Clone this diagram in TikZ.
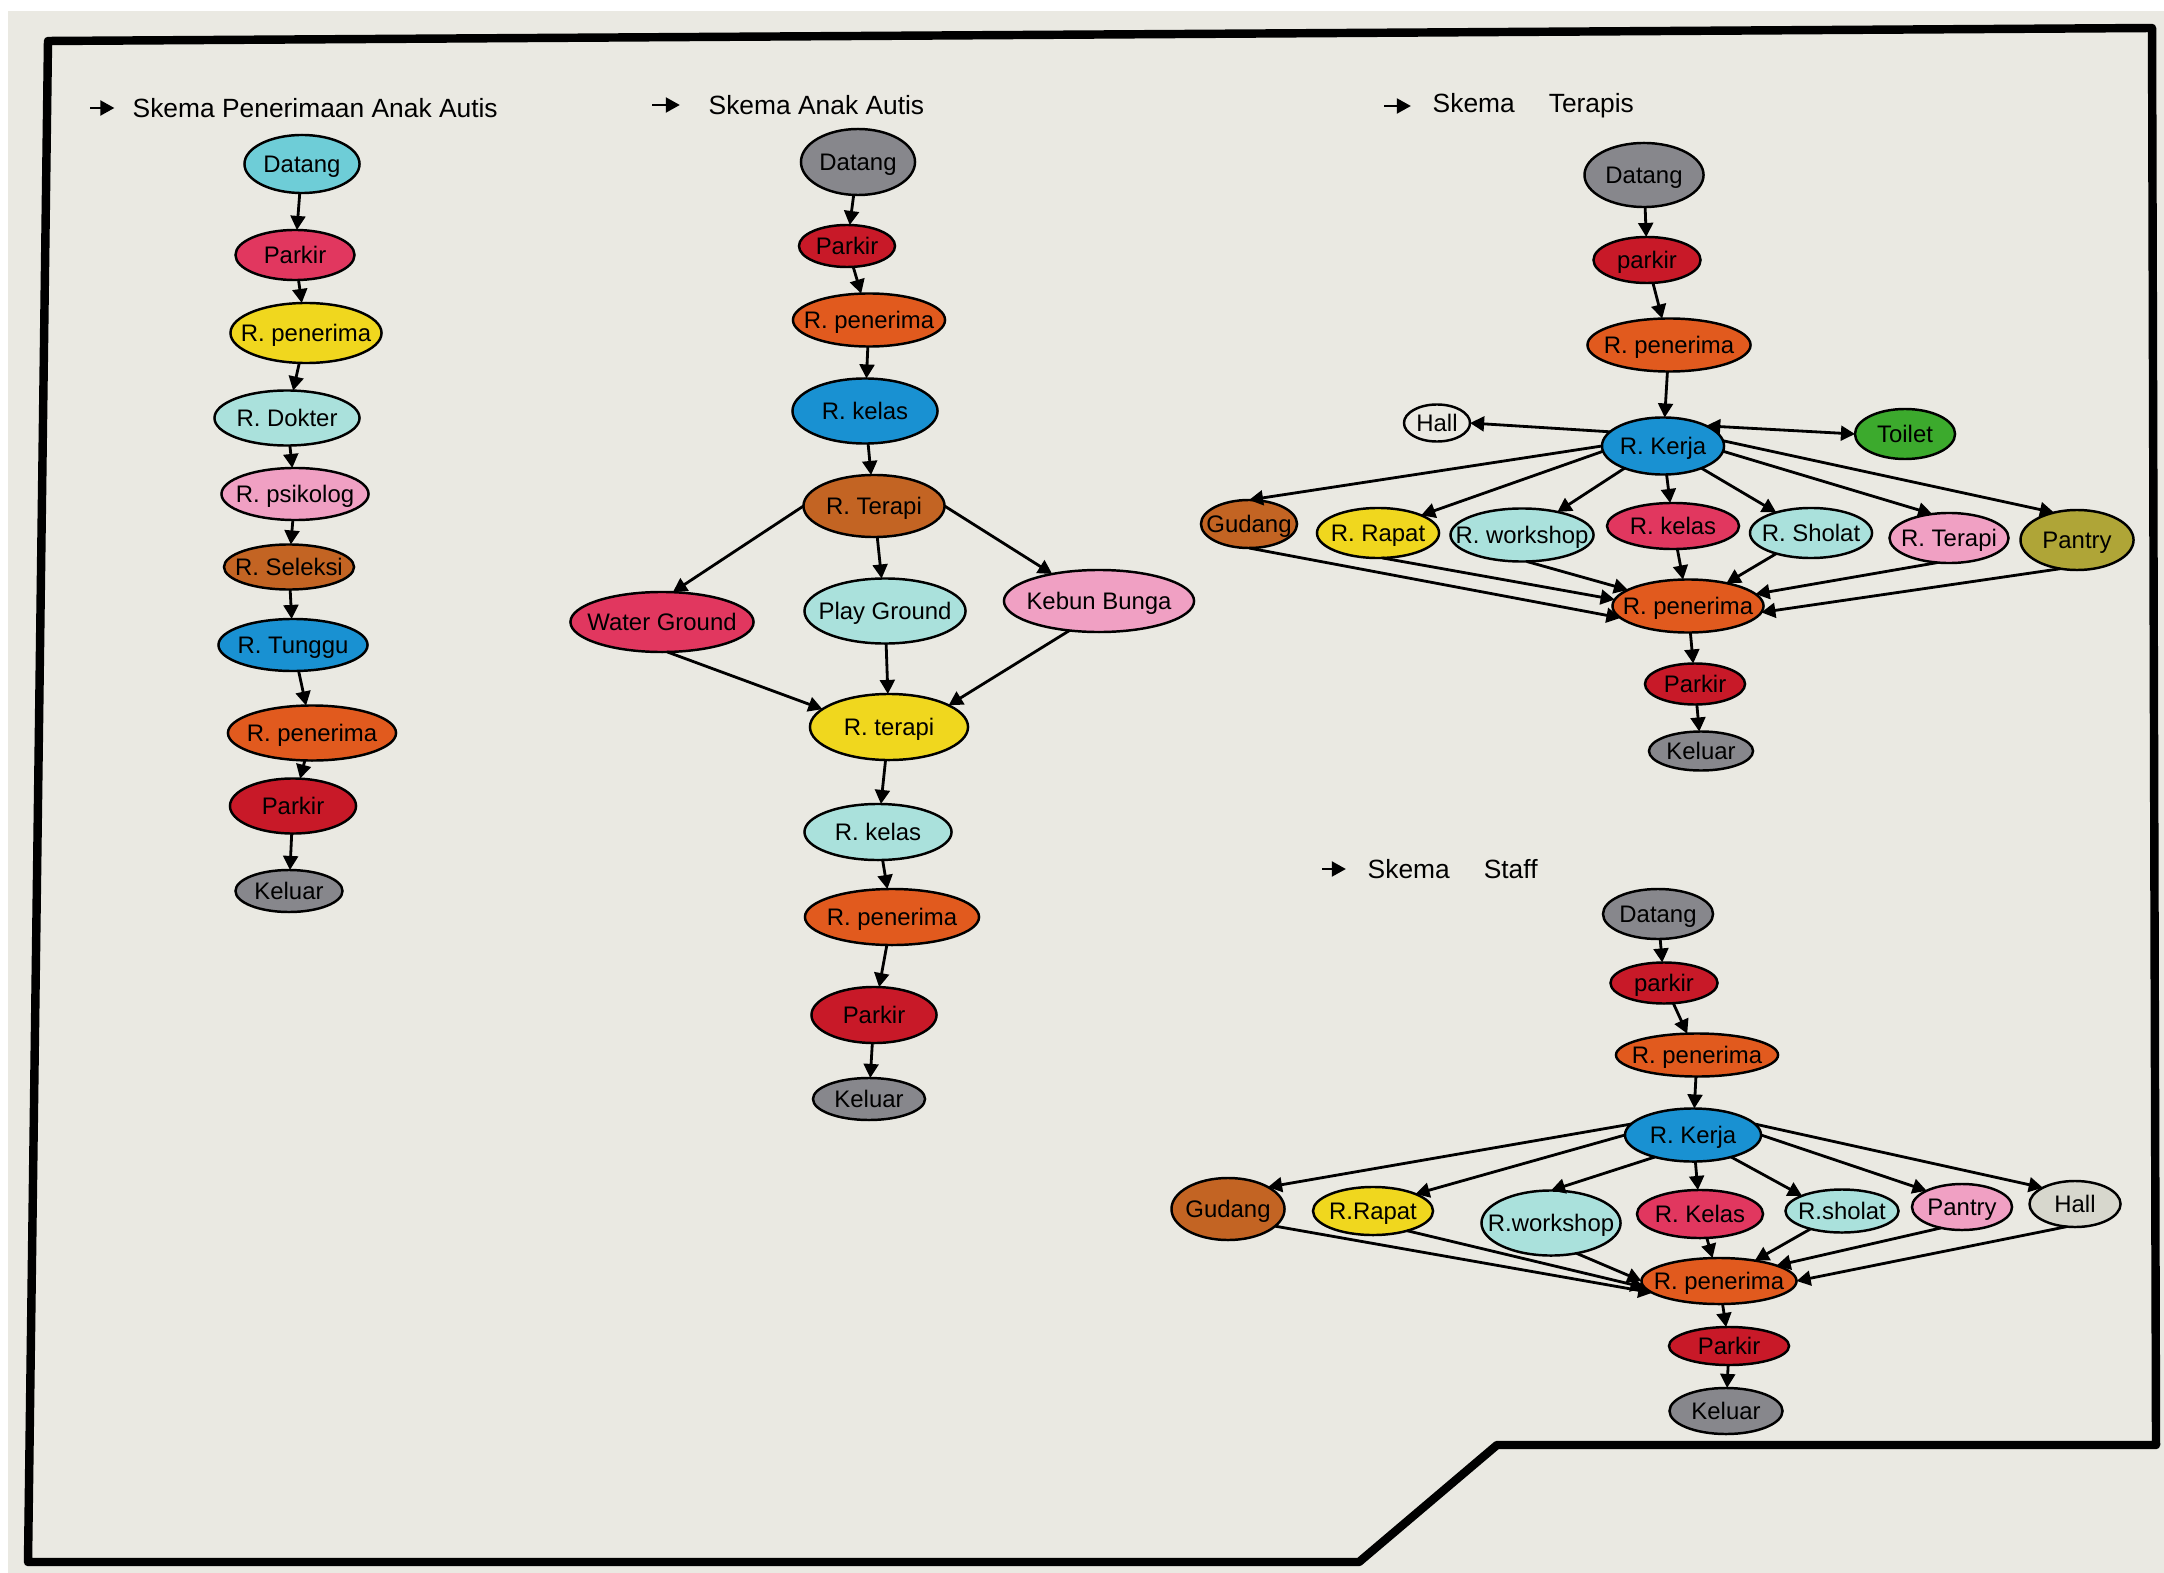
\documentclass[tikz,border=0pt]{standalone}
\usepackage{fontspec}
\setmainfont{Liberation Sans}
\usetikzlibrary{shapes.geometric,arrows.meta}
\definecolor{paper}{RGB}{234,233,226}
\definecolor{cyanA}{RGB}{110,205,215}
\definecolor{crimsonA}{RGB}{225,55,95}
\definecolor{yellowA}{RGB}{240,215,30}
\definecolor{tealA}{RGB}{170,225,220}
\definecolor{pinkA}{RGB}{240,160,195}
\definecolor{brownA}{RGB}{195,100,35}
\definecolor{blueA}{RGB}{25,145,210}
\definecolor{orangeA}{RGB}{225,90,30}
\definecolor{redA}{RGB}{200,25,40}
\definecolor{grayA}{RGB}{135,135,140}
\definecolor{greenA}{RGB}{60,170,45}
\definecolor{oliveA}{RGB}{175,165,55}
\definecolor{hallA}{RGB}{215,215,205}
\newcommand{\roomtext}[1]{\makebox[0pt]{\raisebox{-0.36em}[0pt][0pt]{#1}}}
\tikzset{
  room/.style={ellipse,draw=black,line width=0.7pt,inner sep=0pt,outer sep=0pt,font=\fontsize{6.8}{8}\selectfont},
  sz/.style 2 args={minimum width=#1cm,minimum height=#2cm},
  flow/.style={line width=0.8pt,-{Triangle[length=4pt,width=4.2pt]}},
  both/.style={line width=0.8pt,{Triangle[length=4pt,width=4.2pt]}-{Triangle[length=4pt,width=4.2pt]}},
  heading/.style={anchor=west,inner sep=0pt,font=\fontsize{7.5}{9}\selectfont}
}

\begin{document}
\begin{tikzpicture}[x=0.01cm,y=-0.01cm]
    \fill[white] (0,0) rectangle (2164,1573);
    \fill[paper] (8,11) rectangle (2164,1573);
    \useasboundingbox (0,0) rectangle (2164,1573);
    \draw[line width=2.4pt,line join=round] (48,41) -- (2152,28) -- (2156,1445) -- (1497,1445) -- (1359,1562) -- (28,1562) -- cycle;

    \node[heading] (t1) at (132,108) {Skema Penerimaan Anak Autis};
    \coordinate (t1a) at (90,108);
    \draw[flow,shorten >=5pt] (t1a) -- (t1.west);
    \node[heading] (t2) at (708,105) {Skema Anak Autis};
    \coordinate (t2a) at (652,105);
    \draw[flow,shorten >=8pt] (t2a) -- (t2.west);
    \node[heading] (t3) at (1432,106) {Skema\hspace{0.34cm}Terapis};
    \coordinate (t3a) at (1384,106);
    \draw[flow,shorten >=6pt] (t3a) -- (t3.west);
    \node[heading] (t4) at (1367,869) {Skema\hspace{0.34cm}Staff};
    \coordinate (t4a) at (1322,869);
    \draw[flow,shorten >=6pt] (t4a) -- (t4.west);

    \node[room,fill=cyanA,sz={1.15}{0.58}] (a1) at (302,164) {\roomtext{Datang}};
    \node[room,fill=crimsonA,sz={1.19}{0.50}] (a2) at (295,255) {\roomtext{Parkir}};
    \node[room,fill=yellowA,sz={1.51}{0.60}] (a3) at (306,333) {\roomtext{R. penerima}};
    \node[room,fill=tealA,sz={1.45}{0.55}] (a4) at (287,418) {\roomtext{R. Dokter}};
    \node[room,fill=pinkA,sz={1.47}{0.52}] (a5) at (295,494) {\roomtext{R. psikolog}};
    \node[room,fill=brownA,sz={1.30}{0.45}] (a6) at (289,567) {\roomtext{R. Seleksi}};
    \node[room,fill=blueA,sz={1.49}{0.52}] (a7) at (293,645) {\roomtext{R. Tunggu}};
    \node[room,fill=orangeA,sz={1.68}{0.55}] (a8) at (312,733) {\roomtext{R. penerima}};
    \node[room,fill=redA,sz={1.26}{0.55}] (a9) at (293,806) {\roomtext{Parkir}};
    \node[room,fill=grayA,sz={1.07}{0.42}] (a10) at (289,891) {\roomtext{Keluar}};
    \draw[flow] (a1) -- (a2);
    \draw[flow] (a2) -- (a3);
    \draw[flow] (a3) -- (a4);
    \draw[flow] (a4) -- (a5);
    \draw[flow] (a5) -- (a6);
    \draw[flow] (a6) -- (a7);
    \draw[flow] (a7) -- (a8);
    \draw[flow] (a8) -- (a9);
    \draw[flow] (a9) -- (a10);

    \node[room,fill=grayA,sz={1.14}{0.66}] (b1) at (858,162) {\roomtext{Datang}};
    \node[room,fill=redA,sz={0.96}{0.42}] (b2) at (847,246) {\roomtext{Parkir}};
    \node[room,fill=orangeA,sz={1.52}{0.53}] (b3) at (869,320) {\roomtext{R. penerima}};
    \node[room,fill=blueA,sz={1.45}{0.65}] (b4) at (865,411) {\roomtext{R. kelas}};
    \node[room,fill=brownA,sz={1.41}{0.62}] (b5) at (874,506) {\roomtext{R. Terapi}};
    \node[room,fill=crimsonA,sz={1.83}{0.60}] (b6) at (662,622) {\roomtext{Water Ground}};
    \node[room,fill=tealA,sz={1.61}{0.65}] (b7) at (885,611) {\roomtext{Play Ground}};
    \node[room,fill=pinkA,sz={1.90}{0.62}] (b8) at (1099,601) {\roomtext{Kebun Bunga}};
    \node[room,fill=yellowA,sz={1.58}{0.66}] (b9) at (889,727) {\roomtext{R. terapi}};
    \node[room,fill=tealA,sz={1.47}{0.56}] (b10) at (878,832) {\roomtext{R. kelas}};
    \node[room,fill=orangeA,sz={1.74}{0.56}] (b11) at (892,917) {\roomtext{R. penerima}};
    \node[room,fill=redA,sz={1.25}{0.56}] (b12) at (874,1015) {\roomtext{Parkir}};
    \node[room,fill=grayA,sz={1.12}{0.42}] (b13) at (869,1099) {\roomtext{Keluar}};
    \draw[flow] (b1) -- (b2);
    \draw[flow] (b2) -- (b3);
    \draw[flow] (b3) -- (b4);
    \draw[flow] (b4) -- (b5);
    \draw[flow] (b5.west) -- (b6.70);
    \draw[flow] (b5) -- (b7);
    \draw[flow] (b5.east) -- (b8.150);
    \draw[flow] (b6.-80) -- (b9.165);
    \draw[flow] (b7) -- (b9);
    \draw[flow] (b8.225) -- (b9.20);
    \draw[flow] (b9) -- (b10);
    \draw[flow] (b10) -- (b11);
    \draw[flow] (b11) -- (b12);
    \draw[flow] (b12) -- (b13);

    \node[room,fill=grayA,sz={1.19}{0.64}] (c1) at (1644,175) {\roomtext{Datang}};
    \node[room,fill=redA,sz={1.07}{0.46}] (c2) at (1647,260) {\roomtext{parkir}};
    \node[room,fill=orangeA,sz={1.63}{0.53}] (c3) at (1669,345) {\roomtext{R. penerima}};
    \node[room,fill=blueA,sz={1.22}{0.57}] (c4) at (1663,446) {\roomtext{R. Kerja}};
    \node[room,fill=paper,sz={0.66}{0.37}] (c5) at (1437,423) {\roomtext{Hall}};
    \node[room,fill=greenA,sz={1.00}{0.50}] (c6) at (1905,434) {\roomtext{Toilet}};
    \node[room,fill=brownA,sz={0.96}{0.48}] (c7) at (1249,524) {\roomtext{Gudang}};
    \node[room,fill=yellowA,sz={1.22}{0.50}] (c8) at (1378,533) {\roomtext{R. Rapat}};
    \node[room,fill=tealA,sz={1.43}{0.53}] (c9) at (1522,535) {\roomtext{R. workshop}};
    \node[room,fill=crimsonA,sz={1.32}{0.46}] (c10) at (1673,526) {\roomtext{R. kelas}};
    \node[room,fill=tealA,sz={1.22}{0.50}] (c11) at (1811,533) {\roomtext{R. Sholat}};
    \node[room,fill=pinkA,sz={1.19}{0.50}] (c12) at (1949,538) {\roomtext{R. Terapi}};
    \node[room,fill=oliveA,sz={1.13}{0.60}] (c13) at (2077,540) {\roomtext{Pantry}};
    \node[room,fill=orangeA,sz={1.51}{0.53}] (c14) at (1688,606) {\roomtext{R. penerima}};
    \node[room,fill=redA,sz={1.00}{0.41}] (c15) at (1695,684) {\roomtext{Parkir}};
    \node[room,fill=grayA,sz={1.04}{0.39}] (c16) at (1701,751) {\roomtext{Keluar}};
    \draw[flow] (c1) -- (c2);
    \draw[flow] (c2) -- (c3);
    \draw[flow] (c3) -- (c4);
    \draw[flow] (c4.165) -- (c5.east);
    \draw[both] (c4.25) -- (c6.west);
    \draw[flow] (c4.west) -- (c7.north);
    \draw[flow] (c4.185) -- (c8.north east);
    \draw[flow] (c4.-150) -- (c9);
    \draw[flow] (c4) -- (c10);
    \draw[flow] (c4.-30) -- (c11);
    \draw[flow] (c4.-5) -- (c12.125);
    \draw[flow] (c4.5) -- (c13.130);
    \draw[flow] (c7.south) -- (c14.190);
    \draw[flow] (c8.-80) -- (c14.175);
    \draw[flow] (c9.-80) -- (c14.165);
    \draw[flow] (c10) -- (c14);
    \draw[flow] (c11) -- (c14);
    \draw[flow] (c12.-115) -- (c14.10);
    \draw[flow] (c13.-120) -- (c14.-5);
    \draw[flow] (c14) -- (c15);
    \draw[flow] (c15) -- (c16);

    \node[room,fill=grayA,sz={1.10}{0.50}] (d1) at (1658,914) {\roomtext{Datang}};
    \node[room,fill=redA,sz={1.07}{0.41}] (d2) at (1664,983) {\roomtext{parkir}};
    \node[room,fill=orangeA,sz={1.62}{0.43}] (d3) at (1697,1055) {\roomtext{R. penerima}};
    \node[room,fill=blueA,sz={1.36}{0.53}] (d4) at (1693,1135) {\roomtext{R. Kerja}};
    \node[room,fill=brownA,sz={1.13}{0.62}] (d5) at (1228,1209) {\roomtext{Gudang}};
    \node[room,fill=yellowA,sz={1.20}{0.48}] (d6) at (1373,1211) {\roomtext{R.Rapat}};
    \node[room,fill=tealA,sz={1.39}{0.65}] (d7) at (1551,1223) {\roomtext{R.workshop}};
    \node[room,fill=crimsonA,sz={1.26}{0.48}] (d8) at (1700,1214) {\roomtext{R. Kelas}};
    \node[room,fill=tealA,sz={1.13}{0.43}] (d9) at (1842,1211) {\roomtext{R.sholat}};
    \node[room,fill=pinkA,sz={1.00}{0.46}] (d10) at (1962,1207) {\roomtext{Pantry}};
    \node[room,fill=hallA,sz={0.91}{0.46}] (d11) at (2075,1204) {\roomtext{Hall}};
    \node[room,fill=orangeA,sz={1.55}{0.46}] (d12) at (1719,1281) {\roomtext{R. penerima}};
    \node[room,fill=redA,sz={1.20}{0.38}] (d13) at (1729,1346) {\roomtext{Parkir}};
    \node[room,fill=grayA,sz={1.13}{0.46}] (d14) at (1726,1411) {\roomtext{Keluar}};
    \draw[flow] (d1) -- (d2);
    \draw[flow] (d2) -- (d3);
    \draw[flow] (d3) -- (d4);
    \draw[flow] (d4.170) -- (d5.north east);
    \draw[flow] (d4.west) -- (d6.north east);
    \draw[flow] (d4.-150) -- (d7.north);
    \draw[flow] (d4) -- (d8);
    \draw[flow] (d4.-30) -- (d9.north west);
    \draw[flow] (d4.east) -- (d10.north west);
    \draw[flow] (d4.10) -- (d11.north west);
    \draw[flow] (d5.-20) -- (d12.190);
    \draw[flow] (d6.-30) -- (d12.185);
    \draw[flow] (d7.-50) -- (d12.west);
    \draw[flow] (d8) -- (d12);
    \draw[flow] (d9) -- (d12);
    \draw[flow] (d10.-135) -- (d12.15);
    \draw[flow] (d11.-110) -- (d12.east);
    \draw[flow] (d12) -- (d13);
    \draw[flow] (d13) -- (d14);
  \end{tikzpicture}
\end{document}
